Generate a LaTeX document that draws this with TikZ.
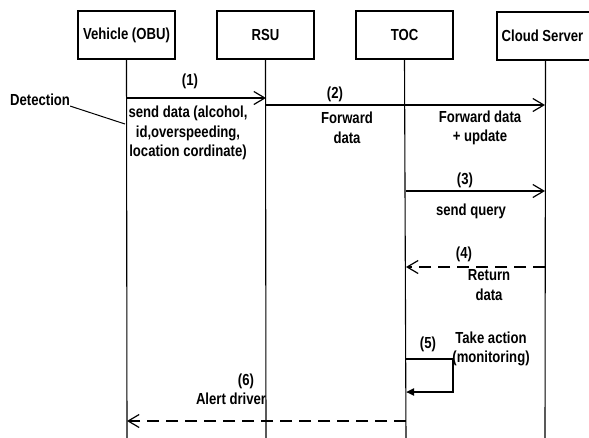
\documentclass[tikz,border=0pt]{standalone}
\usepackage{fontspec}
\setmainfont{Liberation Sans}[FakeStretch = 0.82]
\usetikzlibrary{arrows.meta}

\begin{document}
\begin{tikzpicture}[
        x = 1pt, y = -1pt,
        font = \fontsize{16}{19.5}\selectfont\bfseries,
        actor/.style = {draw, line width = 1.1pt, minimum width = 97pt, minimum height = 48pt, inner sep = 0pt},
        life/.style = {line width = 1.1pt},
        msg/.style = {line width = 1.2pt, -{Straight Barb[length = 11pt, width = 13pt, line width = 1.2pt]}},
        reply/.style = {msg, dash pattern = on 12pt off 7pt},
        self/.style = {line width = 2.2pt, -{Triangle[length = 8pt, width = 7pt]}},
        lbl/.style = {inner sep = 0pt, align = center}
    ]
        \useasboundingbox (0, 0) rectangle (589, 437);

        % actors and their lifelines
        \node [actor] (obu) at (126.5, 35) {Vehicle (OBU)};
        \node [actor] (rsu) at (265.5, 35) {RSU};
        \node [actor] (toc) at (404.5, 35) {TOC};
        \node [actor] (cloud) at (545.5, 36) {\hspace{-6pt}Cloud Server};

        \coordinate (obu end) at (127, 440);
        \coordinate (rsu end) at (266, 440);
        \coordinate (toc end) at (406, 440);
        \coordinate (cloud end) at (545, 440);

        \draw [life]
            (obu.south) -- (obu end)
            (rsu.south) -- (rsu end)
            (toc.south) -- (toc end)
            (cloud.south) -- (cloud end)
        ;

        % message end points
        \coordinate (m1a) at (127, 98);   \coordinate (m1b) at (266, 98);
        \coordinate (m2a) at (266, 105);  \coordinate (m2b) at (545, 105);
        \coordinate (m3a) at (406, 191);  \coordinate (m3b) at (545, 191);
        \coordinate (m4a) at (545, 267);  \coordinate (m4b) at (406, 267);
        \coordinate (m5a) at (406, 359);  \coordinate (m5b) at (453, 359);
        \coordinate (m5c) at (453, 392);  \coordinate (m5d) at (406, 392);
        \coordinate (m6a) at (406, 421);  \coordinate (m6b) at (127, 421);

        \draw [msg] (m1a) -- (m1b);
        \draw [msg] (m2a) -- (m2b);
        \draw [msg] (m3a) -- (m3b);
        \draw [reply] (m4a) -- (m4b);
        \draw [self] (m5a) -- (m5b) -- (m5c) -- (m5d);
        \draw [reply] (m6a) -- (m6b);

        % detection pointer
        \node [lbl, anchor = west] (det) at (10, 100) {Detection};
        \coordinate (det tip) at (125, 124);
        \draw [line width = 1pt] (det.south east) -- (det tip);

        % labels
        \node [lbl] (n1) at (190, 81) {(1)};
        \node [lbl] (t1) at (188, 133) {send data (alcohol,\\id,overspeeding,\\location cordinate)};
        \node [lbl] (n2) at (335, 94) {(2)};
        \node [lbl] (t2a) at (347, 128) {Forward\\data};
        \node [lbl] (t2b) at (480, 128) {Forward data\\+ update};
        \node [lbl] (n3) at (465, 180) {(3)};
        \node [lbl] (t3) at (471, 211) {send query};
        \node [lbl] (n4) at (464, 254) {(4)};
        \node [lbl] (t4) at (489, 285) {Return\\data};
        \node [lbl] (n5) at (428, 344) {(5)};
        \node [lbl] (t5) at (491, 349) {Take action\\(monitoring)};
        \node [lbl] (n6) at (246, 381) {(6)};
        \node [lbl] (t6) at (231, 399) {Alert driver};
    \end{tikzpicture}
\end{document}
